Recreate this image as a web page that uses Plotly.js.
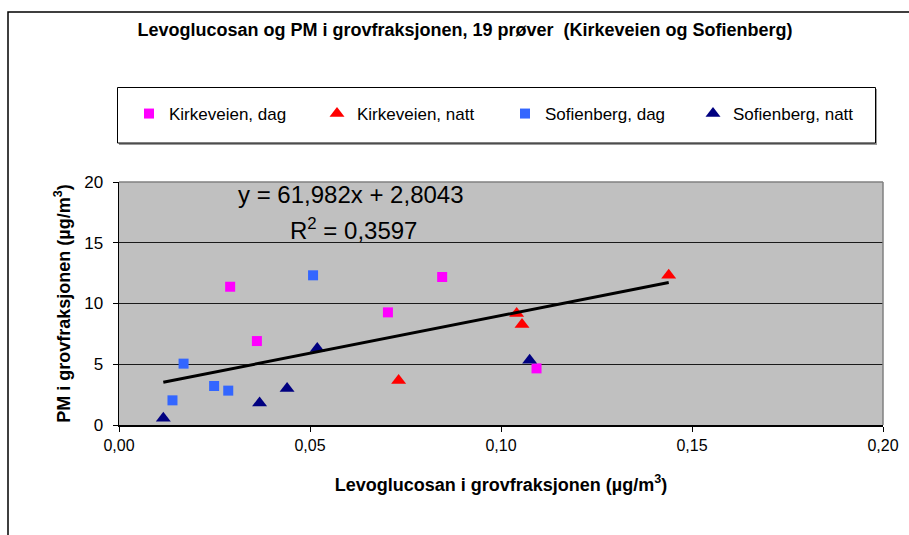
<!DOCTYPE html>
<html>
<head>
<meta charset="utf-8">
<script src="https://cdn.plot.ly/plotly-3.0.1.min.js"></script>
<style>html,body{margin:0;padding:0;background:#fff;}#chart{width:909px;height:535px;}</style>
</head>
<body>
<div id="chart"></div>
<script>
// ---- data ----
const seriesNames = ["Kirkeveien, dag", "Kirkeveien, natt", "Sofienberg, dag", "Sofienberg, natt"];
const kirkDagX  = [0.0291, 0.0361, 0.0704, 0.0846, 0.1093];
const kirkDagY  = [11.38, 6.91, 9.27, 12.18, 4.66];
const kirkNattX = [0.0732, 0.1041, 0.1055, 0.1439];
const kirkNattY = [3.66, 9.17, 8.27, 12.33];
const sofDagX   = [0.0140, 0.0169, 0.0249, 0.0286, 0.0508];
const sofDagY   = [2.03, 5.05, 3.21, 2.83, 12.32];
const sofNattX  = [0.0116, 0.0368, 0.0440, 0.0519, 0.1075];
const sofNattY  = [0.56, 1.82, 3.00, 6.29, 5.33];
const xTicks = [0, 0.05, 0.10, 0.15, 0.20];
const yTicks = [0, 5, 10, 15, 20];
const trendSlope = 61.982;
const trendIntercept = 2.8043;
const rSquared = "0,3597";

const FONT = "Liberation Sans, Arial, sans-serif";
const allX = kirkDagX.concat(kirkNattX, sofDagX, sofNattX);
const tx0 = Math.min.apply(null, allX), tx1 = Math.max.apply(null, allX);

// plot-area pixel geometry helpers (paper coords)
const L = 119, R = 883, T = 182, B = 425, W = 909, H = 535;
const px = v => (v - L) / (R - L);
const py = v => (B - v) / (B - T);

const traces = [
  {x: kirkDagX, y: kirkDagY, name: seriesNames[0], type: "scatter", mode: "markers",
   marker: {symbol: "square", size: 10, color: "#FF00FF"}},
  {x: kirkNattX, y: kirkNattY, name: seriesNames[1], type: "scatter", mode: "markers",
   marker: {symbol: "triangle-up", size: 13, color: "#FF0000"}},
  {x: sofDagX, y: sofDagY, name: seriesNames[2], type: "scatter", mode: "markers",
   marker: {symbol: "square", size: 10, color: "#3366FF"}},
  {x: sofNattX, y: sofNattY, name: seriesNames[3], type: "scatter", mode: "markers",
   marker: {symbol: "triangle-up", size: 13, color: "#000080"}},
  {x: [tx0, tx1], y: [trendSlope * tx0 + trendIntercept, trendSlope * tx1 + trendIntercept],
   type: "scatter", mode: "lines", showlegend: false, hoverinfo: "skip",
   line: {color: "#000000", width: 3}}
];

const layout = {
  width: W, height: H, autosize: false,
  margin: {l: L, r: W - R, t: T, b: H - B, pad: 0},
  paper_bgcolor: "#FFFFFF",
  plot_bgcolor: "#C0C0C0",
  separators: ", ",
  font: {family: FONT, color: "#000000", size: 15},
  title: {
    text: "<b>Levoglucosan og PM i grovfraksjonen, 19 prøver  (Kirkeveien og Sofienberg)</b>",
    font: {family: FONT, size: 18, color: "#000000"},
    x: 465 / W, xref: "container", xanchor: "center",
    y: 1 - 30 / H, yref: "container", yanchor: "middle"
  },
  xaxis: {
    range: [0, 0.20], tickvals: xTicks, tickformat: ".2f",
    showgrid: false, zeroline: false,
    showline: true, linecolor: "#000000", linewidth: 1.5,
    ticks: "outside", ticklen: 5, tickcolor: "#000000", tickwidth: 1,
    tickfont: {family: FONT, size: 16, color: "#000000"},
    title: {text: "<b>Levoglucosan i grovfraksjonen (µg/m<sup>3</sup>)</b>",
            font: {family: FONT, size: 18, color: "#000000"}, standoff: 25},
    fixedrange: true
  },
  yaxis: {
    range: [0, 20], tickvals: yTicks, tickformat: "d",
    showgrid: true, gridcolor: "#1a1a1a", gridwidth: 1, zeroline: false,
    showline: true, linecolor: "#000000", linewidth: 1.5,
    ticks: "outside", ticklen: 5, tickcolor: "#000000", tickwidth: 1,
    tickfont: {family: FONT, size: 17, color: "#000000"},
    ticklabelstandoff: 6,
    title: {text: "<b>PM i grovfraksjonen (µg/m<sup>3</sup>)</b>",
            font: {family: FONT, size: 18, color: "#000000"}, standoff: 9},
    fixedrange: true
  },
  showlegend: true,
  legend: {
    orientation: "h",
    x: px(129), xanchor: "left",
    y: py(114), yanchor: "middle",
    bgcolor: "rgba(0,0,0,0)", borderwidth: 0,
    font: {family: FONT, size: 17, color: "#000000"},
    entrywidth: 143, entrywidthmode: "pixels",
    itemwidth: 30, traceorder: "normal"
  },
  shapes: [
    // outer chart frame (left and top visible)
    {type: "rect", xref: "paper", yref: "paper", x0: px(8), x1: px(930), y0: py(560), y1: py(12),
     line: {color: "#000000", width: 1.5}, fillcolor: "rgba(0,0,0,0)", layer: "below"},
    // legend box shadow and box
    {type: "rect", xref: "paper", yref: "paper", x0: px(119), x1: px(877), y0: py(145), y1: py(89),
     line: {width: 0}, fillcolor: "#9a9a9a", layer: "below"},
    {type: "rect", xref: "paper", yref: "paper", x0: px(117.5), x1: px(875.5), y0: py(143), y1: py(87.5),
     line: {color: "#000000", width: 1}, fillcolor: "#FFFFFF", layer: "below"},
    // plot area top and right border (grey)
    {type: "line", xref: "paper", yref: "paper", x0: 0, x1: 1, y0: 1, y1: 1,
     line: {color: "#808080", width: 1.5}},
    {type: "line", xref: "paper", yref: "paper", x0: 1, x1: 1, y0: 0, y1: 1,
     line: {color: "#808080", width: 1.5}}
  ],
  annotations: [
    {xref: "paper", yref: "paper", x: px(236), y: py(194), xanchor: "left", yanchor: "middle",
     text: "y = " + trendSlope.toString().replace(".", ",") + "x + " + trendIntercept.toString().replace(".", ","),
     showarrow: false, font: {family: FONT, size: 24, color: "#000000"}},
    {xref: "paper", yref: "paper", x: px(288), y: py(229), xanchor: "left", yanchor: "middle",
     text: "R<sup>2</sup> = " + rSquared,
     showarrow: false, font: {family: FONT, size: 24, color: "#000000"}}
  ]
};

Plotly.newPlot("chart", traces, layout, {displayModeBar: false, staticPlot: true});
</script>
</body>
</html>
